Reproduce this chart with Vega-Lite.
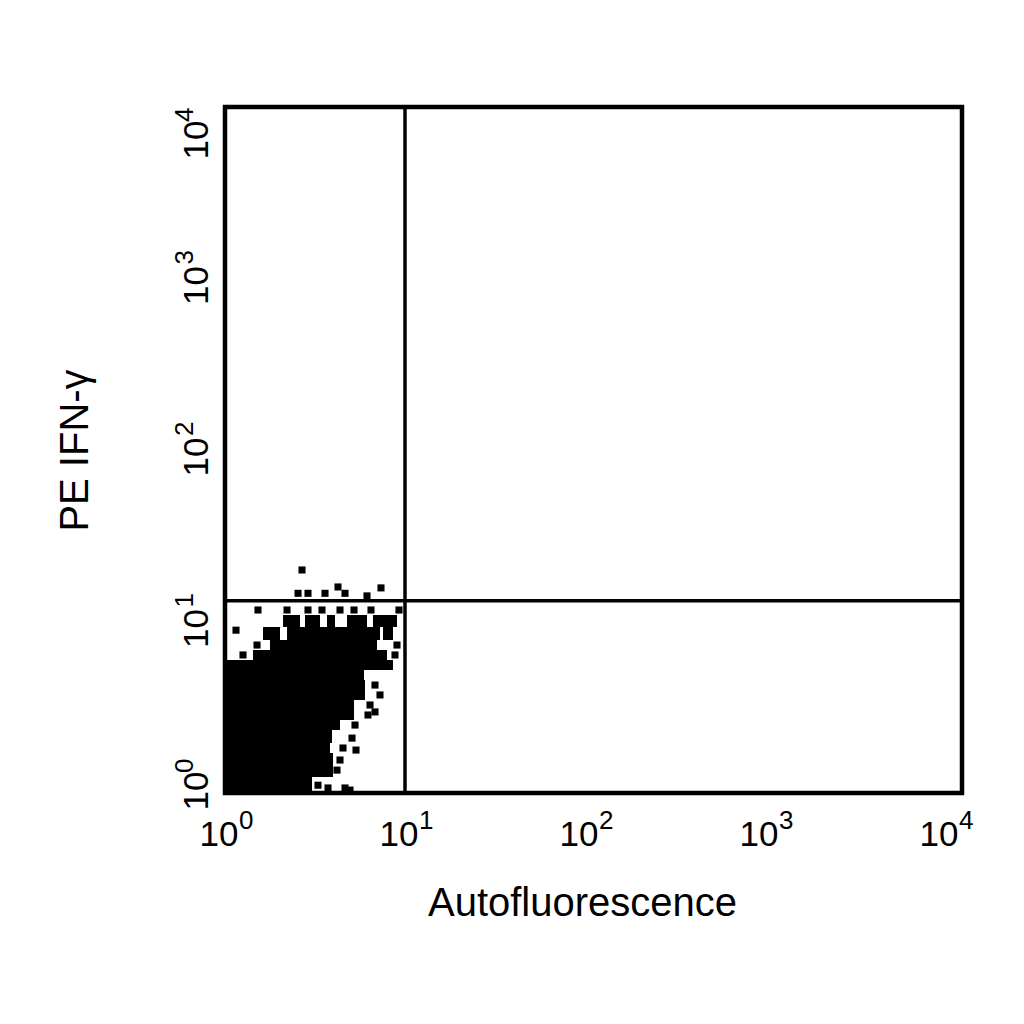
{
  "$schema": "https://vega.github.io/schema/vega-lite/v6.json",
  "width": 737,
  "height": 686,
  "autosize": "none",
  "padding": {"left": 225, "top": 107, "right": 62, "bottom": 231},
  "background": "white",
  "config": {
    "font": "Liberation Sans",
    "view": {"stroke": "black", "strokeWidth": 4.5},
    "axis": {"grid": false, "domain": false, "ticks": false, "labels": false, "titleColor": "black", "titleFontWeight": "normal", "titleFontSize": 40}
  },
  "datasets": {
    "core": [
      {"x1": 1, "x2": 3.043, "y1": 1, "y2": 1.24},
      {"x1": 1, "x2": 3.981, "y1": 1.24, "y2": 1.711},
      {"x1": 1, "x2": 3.831, "y1": 1.711, "y2": 1.957},
      {"x1": 1, "x2": 3.93, "y1": 1.957, "y2": 2.33},
      {"x1": 1, "x2": 4.354, "y1": 2.33, "y2": 2.666},
      {"x1": 1, "x2": 5.209, "y1": 2.666, "y2": 3.486},
      {"x1": 1, "x2": 5.995, "y1": 3.486, "y2": 4.559},
      {"x1": 1, "x2": 5.918, "y1": 4.559, "y2": 5.214},
      {"x1": 1, "x2": 8.577, "y1": 5.214, "y2": 5.964},
      {"x1": 1.431, "x2": 7.943, "y1": 5.964, "y2": 6.822},
      {"x1": 1.778, "x2": 6.99, "y1": 6.822, "y2": 7.802},
      {"x1": 2.211, "x2": 7.262, "y1": 7.802, "y2": 9.288},
      {"x1": 1.626, "x2": 2.021, "y1": 7.802, "y2": 9.288},
      {"x1": 7.546, "x2": 8.577, "y1": 7.802, "y2": 9.288},
      {"x1": 2.101, "x2": 2.61, "y1": 9.288, "y2": 10.91},
      {"x1": 2.783, "x2": 3.372, "y1": 9.288, "y2": 10.91},
      {"x1": 3.687, "x2": 4.084, "y1": 9.288, "y2": 10.91},
      {"x1": 4.762, "x2": 6.15, "y1": 9.288, "y2": 10.91},
      {"x1": 6.641, "x2": 9.027, "y1": 9.288, "y2": 10.91}
    ],
    "events": [
      {"x": 2.678, "y": 19.97},
      {"x": 4.244, "y": 15.9},
      {"x": 7.356, "y": 15.7},
      {"x": 2.545, "y": 14.6},
      {"x": 2.891, "y": 14.6},
      {"x": 3.594, "y": 14.6},
      {"x": 4.642, "y": 14.6},
      {"x": 6.15, "y": 14.1},
      {"x": 1.525, "y": 11.67},
      {"x": 2.211, "y": 11.67},
      {"x": 2.891, "y": 11.67},
      {"x": 3.458, "y": 11.67},
      {"x": 4.354, "y": 11.67},
      {"x": 5.209, "y": 11.67},
      {"x": 6.473, "y": 11.67},
      {"x": 9.261, "y": 11.67},
      {"x": 1.151, "y": 8.9},
      {"x": 1.506, "y": 7.29},
      {"x": 1.259, "y": 6.38},
      {"x": 9.027, "y": 7.29},
      {"x": 8.799, "y": 6.38},
      {"x": 6.813, "y": 4.26},
      {"x": 7.262, "y": 3.73},
      {"x": 6.392, "y": 3.26},
      {"x": 6.229, "y": 2.85},
      {"x": 6.813, "y": 2.97},
      {"x": 5.275, "y": 2.49},
      {"x": 5.077, "y": 2.09},
      {"x": 4.524, "y": 1.83},
      {"x": 5.343, "y": 1.78},
      {"x": 4.354, "y": 1.557},
      {"x": 4.19, "y": 1.36},
      {"x": 3.286, "y": 1.11},
      {"x": 3.735, "y": 1.07},
      {"x": 4.642, "y": 1.07},
      {"x": 4.948, "y": 1.04}
    ],
    "gates": [{"xcut": 10, "ycut": 13.2}],
    "ticks": [
      {"v": 1, "e": "0"},
      {"v": 10, "e": "1"},
      {"v": 100, "e": "2"},
      {"v": 1000, "e": "3"},
      {"v": 10000, "e": "4"}
    ]
  },
  "layer": [
    {
      "data": {"name": "core"},
      "mark": {"type": "rect", "color": "black"},
      "encoding": {
        "x": {
          "field": "x1", "type": "quantitative",
          "scale": {"type": "log", "domain": [1, 12430], "nice": false},
          "axis": {"title": "Autofluorescence", "titlePadding": 90, "titleX": 357}
        },
        "x2": {"field": "x2"},
        "y": {
          "field": "y1", "type": "quantitative",
          "scale": {"type": "log", "domain": [1, 10000], "nice": false},
          "axis": {"title": "PE IFN-γ", "titlePadding": 130}
        },
        "y2": {"field": "y2"}
      }
    },
    {
      "data": {"name": "events"},
      "mark": {"type": "point", "shape": "square", "filled": true, "color": "black", "size": 50, "opacity": 1},
      "encoding": {
        "x": {"field": "x", "type": "quantitative"},
        "y": {"field": "y", "type": "quantitative"}
      }
    },
    {
      "data": {"name": "gates"},
      "mark": {"type": "rule", "color": "black", "strokeWidth": 3.5},
      "encoding": {"x": {"field": "xcut", "type": "quantitative"}}
    },
    {
      "data": {"name": "gates"},
      "mark": {"type": "rule", "color": "black", "strokeWidth": 3.5},
      "encoding": {"y": {"field": "ycut", "type": "quantitative"}}
    },
    {
      "data": {"name": "ticks"},
      "mark": {"type": "text", "text": "10", "fontSize": 35, "align": "center", "baseline": "alphabetic", "dx": -6, "dy": 53, "color": "black"},
      "encoding": {
        "x": {"field": "v", "type": "quantitative"},
        "y": {"datum": 1, "type": "quantitative"}
      }
    },
    {
      "data": {"name": "ticks"},
      "mark": {"type": "text", "fontSize": 26, "align": "left", "baseline": "alphabetic", "dx": 14, "dy": 36, "color": "black"},
      "encoding": {
        "x": {"field": "v", "type": "quantitative"},
        "y": {"datum": 1, "type": "quantitative"},
        "text": {"field": "e"}
      }
    },
    {
      "data": {"name": "ticks"},
      "mark": {"type": "text", "text": "10", "fontSize": 35, "angle": 270, "align": "center", "baseline": "alphabetic", "dx": {"expr": "datum.v == 10000 ? -33 : datum.v == 1 ? 2 : -7"}, "dy": -17, "color": "black"},
      "encoding": {
        "x": {"datum": 1, "type": "quantitative"},
        "y": {"field": "v", "type": "quantitative"}
      }
    },
    {
      "data": {"name": "ticks"},
      "mark": {"type": "text", "fontSize": 26, "angle": 270, "align": "left", "baseline": "alphabetic", "dx": {"expr": "datum.v == 10000 ? -15 : datum.v == 1 ? 20 : 14"}, "dy": -32, "color": "black"},
      "encoding": {
        "x": {"datum": 1, "type": "quantitative"},
        "y": {"field": "v", "type": "quantitative"},
        "text": {"field": "e"}
      }
    }
  ]
}
